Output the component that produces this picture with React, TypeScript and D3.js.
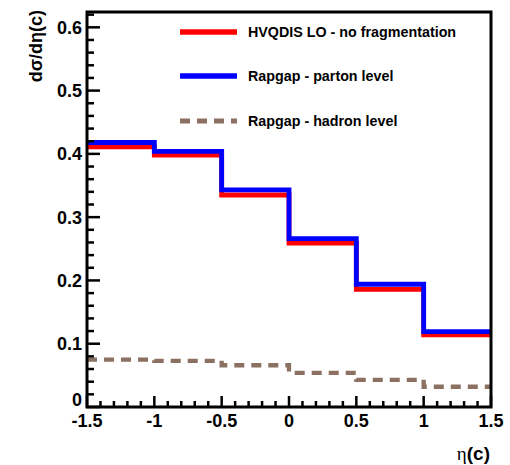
import React from "react";
import * as d3 from "d3";

const binEdges = [-1.5, -1, -0.5, 0, 0.5, 1, 1.5];
const hvqdisLO = [0.411, 0.398, 0.335, 0.259, 0.186, 0.114];
const rapgapParton = [0.418, 0.404, 0.343, 0.266, 0.194, 0.119];
const rapgapHadron = [0.075, 0.073, 0.066, 0.054, 0.043, 0.032];
const yTickLabels = ["0", "0.1", "0.2", "0.3", "0.4", "0.5", "0.6"];
const xTickLabels = ["-1.5", "-1", "-0.5", "0", "0.5", "1", "1.5"];
const legendLabels = ["HVQDIS LO - no fragmentation", "Rapgap - parton level", "Rapgap - hadron level"];

const W = 510, H = 465;
const L = 87, R = 491, T = 12, B = 407;

export default function App() {
  const x = d3.scaleLinear().domain([-1.5, 1.5]).range([L, R]);
  const y = d3.scaleLinear().domain([0, 0.6242]).range([B, T]);

  const stepPts = (vals: number[]) => {
    const pts: [number, number][] = [];
    vals.forEach((v, i) => {
      pts.push([x(binEdges[i]), y(v)]);
      pts.push([x(binEdges[i + 1]), y(v)]);
    });
    return pts;
  };
  const line = d3.line<[number, number]>();

  const yMinor = d3.range(0, 0.6201, 0.02);
  const xMinor = d3.range(-1.5, 1.5001, 0.1);
  const font = "'Liberation Sans', Arial, sans-serif";

  const series = [
    { vals: hvqdisLO, color: "#ff0000", w: 4.8, dash: undefined as string | undefined },
    { vals: rapgapParton, color: "#0000ff", w: 4.8, dash: undefined },
    { vals: rapgapHadron, color: "#8c7062", w: 4.3, dash: "10 7" },
  ];
  const legendY = [32, 76, 121];

  return (
    <svg width={W} height={H} style={{ position: "absolute", left: 0, top: 0 }}>
      <rect x={0} y={0} width={W} height={H} fill="#fff" />
      {series.map((s, i) => (
        <path key={i} d={line(stepPts(s.vals)) || ""} fill="none" stroke={s.color}
          strokeWidth={s.w} strokeDasharray={s.dash} />
      ))}
      {/* ticks */}
      {yMinor.map((v, i) => {
        const major = i % 5 === 0;
        return <line key={"ym" + i} x1={L} x2={L + (major ? 13 : 7)} y1={y(v)} y2={y(v)} stroke="#000" strokeWidth={2.5} />;
      })}
      {xMinor.map((v, i) => {
        const major = i % 5 === 0;
        return <line key={"xm" + i} x1={x(v)} x2={x(v)} y1={B} y2={B - (major ? 11 : 6)} stroke="#000" strokeWidth={2.5} />;
      })}
      {/* frame */}
      <rect x={L} y={T} width={R - L} height={B - T} fill="none" stroke="#000" strokeWidth={3} />
      {/* y labels */}
      {yTickLabels.map((t, i) => {
        const v = i * 0.1;
        const isZero = i === 0;
        return (
          <text key={"yl" + i} x={82} y={isZero ? y(v) - 1 : y(v) + 6.5} textAnchor="end"
            fontFamily={font} fontWeight="bold" fontSize={18} fill="#000">{t}</text>
        );
      })}
      {xTickLabels.map((t, i) => {
        const v = -1.5 + i * 0.5;
        return (
          <text key={"xl" + i} x={x(v)} y={427} textAnchor="middle"
            fontFamily={font} fontWeight="bold" fontSize={18} fill="#000">{t}</text>
        );
      })}
      {/* axis titles */}
      <text transform={`translate(42,10) rotate(-90)`} textAnchor="end" fontFamily={font}
        fontSize={18} fontWeight="bold" fill="#000">dσ/dη(c)</text>
      <text x={490} y={460} textAnchor="end" fontFamily={font} fontSize={19} fill="#000">
        <tspan fontFamily="'Liberation Serif', serif">η</tspan><tspan fontWeight="bold">(c)</tspan>
      </text>
      {/* legend */}
      {series.map((s, i) => (
        <g key={"lg" + i}>
          <line x1={180} x2={237} y1={legendY[i]} y2={legendY[i]} stroke={s.color}
            strokeWidth={s.w + 0.5} strokeDasharray={s.dash} />
          <text x={248} y={legendY[i] + 5} fontFamily={font} fontWeight="bold" fontSize={14.3} fill="#000">
            {legendLabels[i]}
          </text>
        </g>
      ))}
    </svg>
  );
}
